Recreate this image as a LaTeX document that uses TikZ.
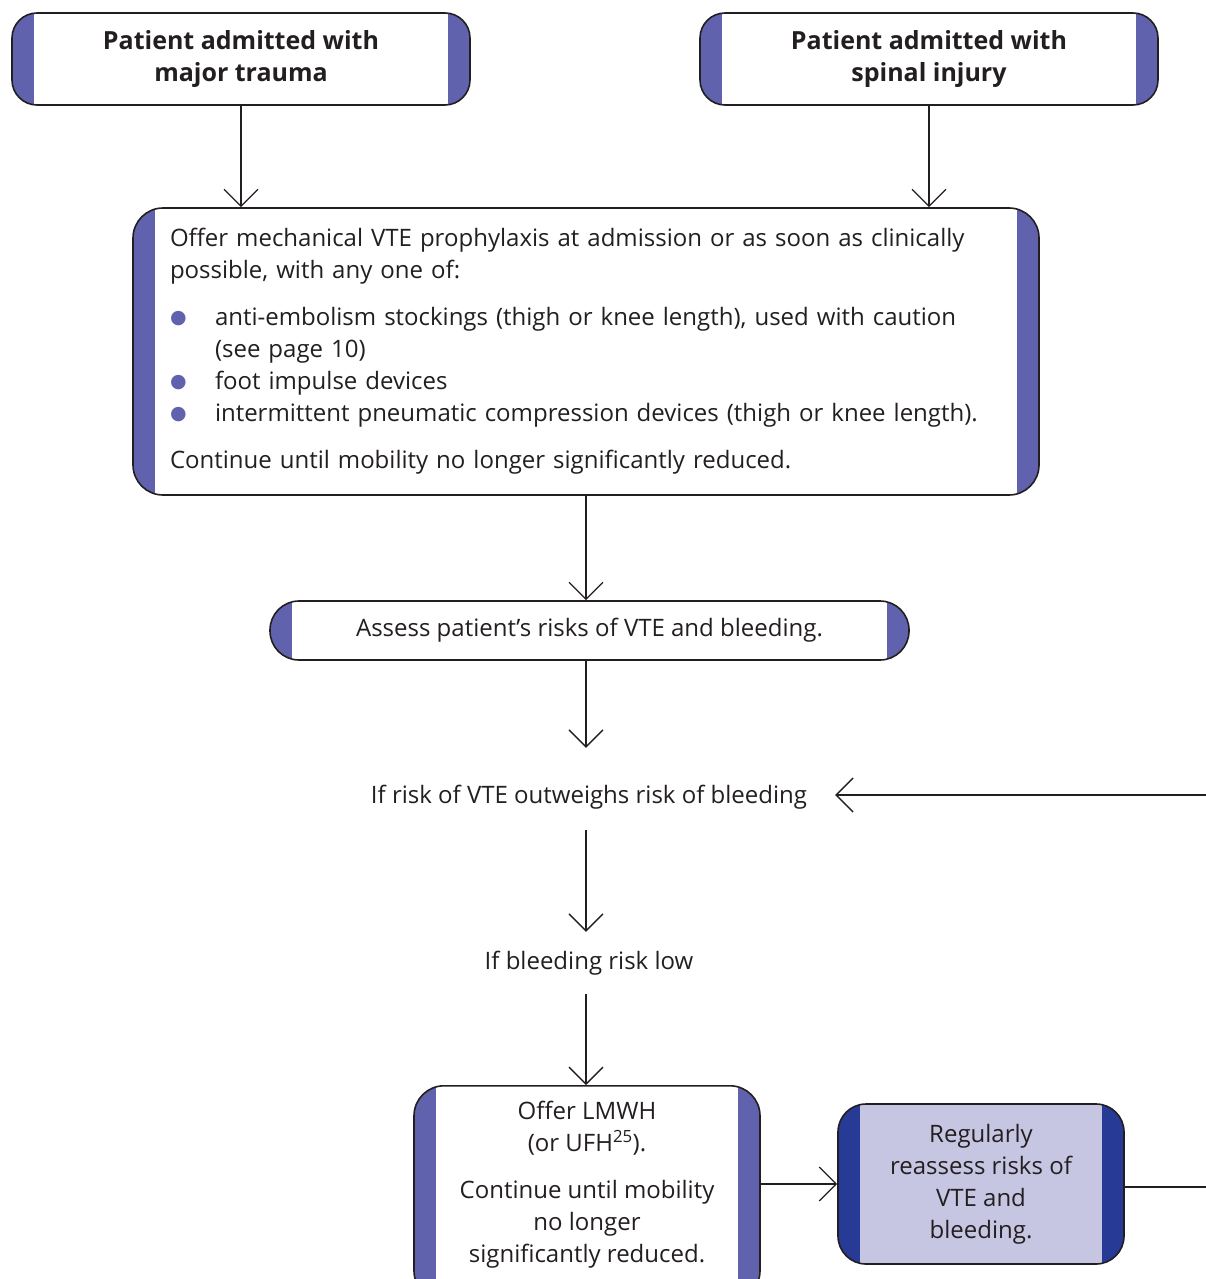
\documentclass[tikz,border=0pt]{standalone}
\usepackage{fontspec}
\setmainfont{Open Sans}
\newfontfamily\dejavu{DejaVu Sans}
\usetikzlibrary{arrows.meta}
\definecolor{bar}{HTML}{6062AE}
\definecolor{darkbar}{HTML}{263A96}
\definecolor{lav}{HTML}{C6C6E2}
\definecolor{ink}{HTML}{231F20}
\newcommand{\bulitem}{\makebox[45pt][l]{\raisebox{2pt}{\textcolor{bar}{\fontsize{19}{19}\selectfont\dejavu ●}}}}
\begin{document}
\begin{tikzpicture}[x=1pt,y=-1pt,
  font=\fontsize{24}{32}\selectfont, text=ink,
  box/.style={draw=ink, line width=1.6pt, fill=white, align=center, inner sep=0pt},
  bars/.style={path picture={
    \fill[#1, sharp corners] (path picture bounding box.north west) rectangle ([xshift=22pt]path picture bounding box.south west);
    \fill[#1, sharp corners] (path picture bounding box.north east) rectangle ([xshift=-22pt]path picture bounding box.south east);}},
  arr/.style={draw=ink, line width=1.3pt, -{Straight Barb[length=17pt,width=34pt]}},
  plain/.style={draw=ink, line width=1.3pt},
  lbl/.style={inner sep=0pt, text height=17pt, text depth=6pt},
  title/.style={font=\fontsize{25}{32}\selectfont\bfseries}]
\path[use as bounding box] (0,0) rectangle (1206,1279);
\clip (0,0) rectangle (1206,1279);

\node[box, bars=bar, rounded corners=25pt, minimum width=458pt, minimum height=92pt, title] (A) at (241,59) {Patient admitted with\\major trauma};
\node[box, bars=bar, rounded corners=25pt, minimum width=458pt, minimum height=92pt, title] (B) at (929,59) {Patient admitted with\\spinal injury};

\node[box, bars=bar, rounded corners=30pt, minimum width=906pt, minimum height=287pt,
  text width=832pt, align=left] (C) at (586,351.5) {Offer mechanical VTE prophylaxis at admission or as soon as clinically\\
possible, with any one of:\\[15pt]
\bulitem anti-embolism stockings (thigh or knee length), used with caution\\
\hspace*{45pt}(see page 10)\\
\bulitem foot impulse devices\\
\bulitem intermittent pneumatic compression devices (thigh or knee length).\\[15pt]
Continue until mobility no longer significantly reduced.};

\node[box, bars=bar, rounded corners=29pt, minimum width=639pt, minimum height=59pt] (D) at (589.5,630.5) {Assess patient’s risks of VTE and bleeding.};

\node[lbl, minimum width=492pt] (T1) at (589,798) {If risk of VTE outweighs risk of bleeding};
\node[lbl] (T2) at (589,964) {If bleeding risk low};

\node[box, bars=bar, rounded corners=30pt, minimum width=346pt, minimum height=215pt, anchor=north] (E) at (587,1085) {};
\node[align=center, inner sep=0pt, anchor=north] (Etext) at ([yshift=-16pt]E.north) {Offer LMWH\\(or UFH\textsuperscript{25}).\\[15pt]Continue until mobility\\no longer\\significantly reduced.};

\node[box, fill=lav, bars=darkbar, rounded corners=28pt, minimum width=286pt, minimum height=160pt] (F) at (981,1184) {Regularly\\reassess risks of\\VTE and\\bleeding.};

\coordinate (R1) at (1206,795);
\coordinate (R2) at (1206,1187);

\draw[arr] (A.south) -- (A.south |- C.north);
\draw[arr] (B.south) -- (B.south |- C.north);
\draw[arr] (C.south) -- (C.south |- D.north);
\draw[arr, shorten >=38.5pt] (D.south -| C.south) -- (T1.north -| C.south);
\draw[arr, shorten <=20.5pt, shorten >=20.5pt] (T1.south -| C.south) -- (T2.north -| C.south);
\draw[arr, shorten <=18.5pt] (T2.south -| C.south) -- (E.north -| C.south);
\draw[arr] (R1) -- (T1.east |- R1);
\draw[arr] (E.east |- F.west) -- (F.west);
\draw[plain] (F.east |- R2) -- (R2);
\end{tikzpicture}
\end{document}
